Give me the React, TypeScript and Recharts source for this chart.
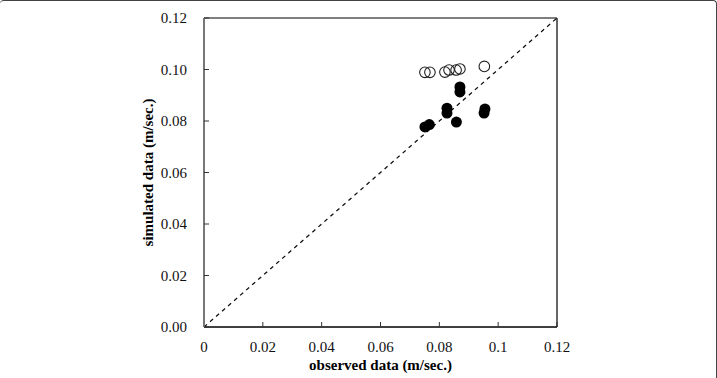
import {
  ScatterChart,
  Scatter,
  XAxis,
  YAxis,
  ReferenceLine,
  Label,
} from 'recharts';

// ── Data ────────────────────────────────────────────────
const xTicks = [0, 0.02, 0.04, 0.06, 0.08, 0.1, 0.12];
const yTicks = [0, 0.02, 0.04, 0.06, 0.08, 0.1, 0.12];

// open circles
const openObserved = [0.0751, 0.0768, 0.0819, 0.0833, 0.0857, 0.087, 0.0953];
const openSimulated = [0.0989, 0.0989, 0.099, 0.0998, 0.0998, 0.1002, 0.1012];

// filled circles
const filledObserved = [0.087, 0.087, 0.0826, 0.0826, 0.0858, 0.0955, 0.0952, 0.0751, 0.0766];
const filledSimulated = [0.0932, 0.0913, 0.085, 0.0831, 0.0796, 0.0847, 0.0831, 0.0777, 0.0786];

const openData = openObserved.map((x, i) => ({ x, y: openSimulated[i] }));
const filledData = filledObserved.map((x, i) => ({ x, y: filledSimulated[i] }));

const FONT = '"Liberation Serif", "Times New Roman", serif';

// ── Helpers ─────────────────────────────────────────────
const OpenDot = (props: any) => (
  <circle cx={props.cx} cy={props.cy} r={5.3} fill="none" stroke="#222" strokeWidth={1.1} />
);

const FilledDot = (props: any) => (
  <circle cx={props.cx} cy={props.cy} r={5.5} fill="#000" />
);

const YLabel = (props: any) => {
  const vb = props.viewBox;
  const cx = vb.x + 4;
  const cy = vb.y + vb.height / 2;
  return (
    <text
      x={cx}
      y={cy}
      transform={`rotate(-90, ${cx}, ${cy})`}
      textAnchor="middle"
      dominantBaseline="central"
      style={{ fontFamily: FONT, fontWeight: 'bold', fontSize: 15 }}
      fill="#000"
    >
      simulated data (m/sec.)
    </text>
  );
};

// ── Component ───────────────────────────────────────────
export default function App() {
  return (
    <div
      style={{
        width: 717,
        height: 378,
        boxSizing: 'border-box',
        borderTop: '1px solid #444',
        borderRight: '1px solid #444',
        borderTopLeftRadius: 4,
        borderTopRightRadius: 4,
        position: 'relative',
        overflow: 'hidden',
        background: '#fff',
        fontFamily: FONT,
      }}
    >
      <style>{'body{margin:0} .recharts-wrapper text{font-family:"Liberation Serif","Times New Roman",serif}'}</style>
      <ScatterChart
        width={717}
        height={378}
        margin={{ top: 18, right: 160, bottom: 6, left: 144 }}
        style={{ position: 'absolute', left: 0, top: -1 }}
      >
        <XAxis
          type="number"
          dataKey="x"
          domain={[0, 0.12]}
          ticks={xTicks}
          height={45}
          tickSize={-5}
          tickMargin={19}
          tick={{ fill: '#111', fontSize: 15, fontFamily: FONT }}
          tickLine={{ stroke: '#333' }}
          axisLine={{ stroke: '#000', strokeWidth: 1.5 }}
        >
          <Label
            value="observed data (m/sec.)"
            position="insideBottom"
            offset={2}
            style={{ fontFamily: FONT, fontWeight: 'bold', fontSize: 15, fill: '#000' }}
          />
        </XAxis>
        <YAxis
          type="number"
          dataKey="y"
          domain={[0, 0.12]}
          ticks={yTicks}
          width={60}
          tickSize={-5}
          tickMargin={22}
          tickFormatter={(v: number) => v.toFixed(2)}
          tick={{ fill: '#111', fontSize: 15, fontFamily: FONT }}
          tickLine={{ stroke: '#333' }}
          axisLine={{ stroke: '#777', strokeWidth: 2 }}
          label={<YLabel />}
        />
        <ReferenceLine y={0.12} stroke="#000" strokeWidth={1.2} />
        <ReferenceLine x={0.12} stroke="#000" strokeWidth={1.2} />
        <ReferenceLine
          segment={[
            { x: 0, y: 0 },
            { x: 0.12, y: 0.12 },
          ]}
          stroke="#111"
          strokeWidth={1.3}
          strokeDasharray="4 4"
        />
        <Scatter data={openData} shape={<OpenDot />} isAnimationActive={false} />
        <Scatter data={filledData} shape={<FilledDot />} isAnimationActive={false} />
      </ScatterChart>
    </div>
  );
}
